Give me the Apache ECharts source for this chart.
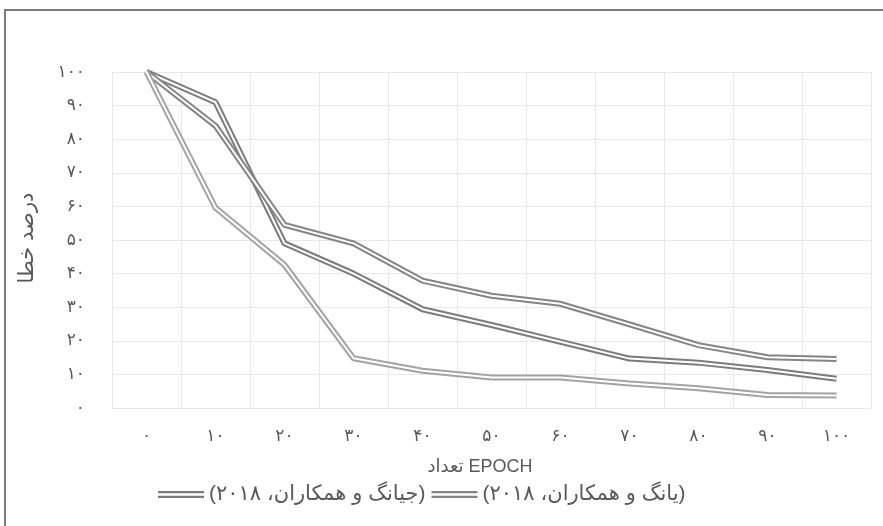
<!DOCTYPE html>
<html>
<head>
<meta charset="utf-8">
<script src="https://cdn.jsdelivr.net/npm/echarts@6/dist/echarts.min.js"></script>
<style>
  html, body { margin: 0; padding: 0; background: #fff; }
  #chart { width: 883px; height: 526px; }
</style>
</head>
<body>
<div id="chart"></div>
<script>
var categories = ['۰', '۱۰', '۲۰', '۳۰', '۴۰', '۵۰', '۶۰', '۷۰', '۸۰', '۹۰', '۱۰۰'];
var yTickLabels = ['۰', '۱۰', '۲۰', '۳۰', '۴۰', '۵۰', '۶۰', '۷۰', '۸۰', '۹۰', '۱۰۰'];
var seriesNames = ['(جیانگ و همکاران، ۲۰۱۸)', '(یانگ و همکاران، ۲۰۱۸)', ''];
var jiangData = [100, 91, 49, 40, 29.4, 24.7, 19.7, 14.7, 13.5, 11.3, 8.7];
var yangData = [100, 84, 54.5, 49, 37.9, 33.4, 31, 24.9, 18.7, 15.1, 14.6];
var thirdData = [100, 59.6, 42.6, 14.8, 11.1, 9.1, 9.1, 7.3, 5.9, 3.9, 3.7];

var fontFam = '"Liberation Sans", "DejaVu Sans", sans-serif';
var textColor = '#595959';

function doubleLine(name, data, color) {
	// excel "double" line: thick grey stroke with a white core
	return [{
		name: name,
		type: 'line',
		data: data,
		showSymbol: false,
		symbol: 'none',
		color: color,
		lineStyle: { color: color, width: 6 },
		emphasis: { disabled: true }
	}, {
		name: name + '_core',
		type: 'line',
		data: data,
		showSymbol: false,
		symbol: 'none',
		color: '#fff',
		lineStyle: { color: '#fff', width: 2 },
		emphasis: { disabled: true },
		silent: true
	}];
}

var series = [].concat(
	doubleLine(seriesNames[0], jiangData, '#7b7b7b'),
	doubleLine(seriesNames[1], yangData, '#858585'),
	doubleLine('third', thirdData, '#a3a3a3')
);

var myChart = echarts.init(document.getElementById('chart'));

var option = {
	animation: false,
	backgroundColor: '#fff',
	grid: {
		left: 112,
		right: 12,
		top: 72,
		bottom: 118
	},
	legend: {
		data: [seriesNames[0], seriesNames[1]],
		left: 153,
		top: 479,
		itemWidth: 46,
		itemHeight: 7,
		itemGap: 6,
		icon: 'path://M0 0H46V2.2H0Z M0 4.8H46V7H0Z',
		textStyle: {
			color: textColor,
			fontSize: 21,
			fontFamily: fontFam
		}
	},
	xAxis: {
		type: 'category',
		data: categories,
		boundaryGap: true,
		axisLine: { show: false },
		axisTick: { show: false },
		axisLabel: {
			color: textColor,
			fontSize: 17,
			fontFamily: fontFam,
			margin: 20
		},
		splitLine: {
			show: true,
			lineStyle: { color: '#e8e8e8', width: 1 }
		}
	},
	yAxis: {
		type: 'value',
		min: 0,
		max: 100,
		interval: 10,
		axisLine: { show: false },
		axisTick: { show: false },
		axisLabel: {
			color: textColor,
			fontSize: 17,
			fontFamily: fontFam,
			margin: 27,
			formatter: function (v) {
				return yTickLabels[Math.round(v / 10)];
			}
		},
		splitLine: {
			lineStyle: { color: '#e8e8e8', width: 1 }
		}
	},
	graphic: [
		{
			type: 'rect',
			shape: { x: 5, y: 10, width: 900, height: 600 },
			style: { fill: 'none', stroke: '#7a7a7a', lineWidth: 2 },
			silent: true
		},
		{
			type: 'text',
			x: 27,
			y: 238,
			rotation: Math.PI / 2,
			style: {
				text: 'درصد خطا',
				fill: textColor,
				fontSize: 21,
				fontFamily: fontFam,
				align: 'center',
				verticalAlign: 'middle'
			}
		},
		{
			type: 'text',
			x: 480,
			y: 467,
			style: {
				text: 'تعداد EPOCH',
				fill: textColor,
				fontSize: 18,
				fontFamily: fontFam,
				align: 'center',
				verticalAlign: 'middle'
			}
		}
	],
	series: series
};

if (option && typeof option === "object") {
	myChart.setOption(option, true);
}
</script>
</body>
</html>
